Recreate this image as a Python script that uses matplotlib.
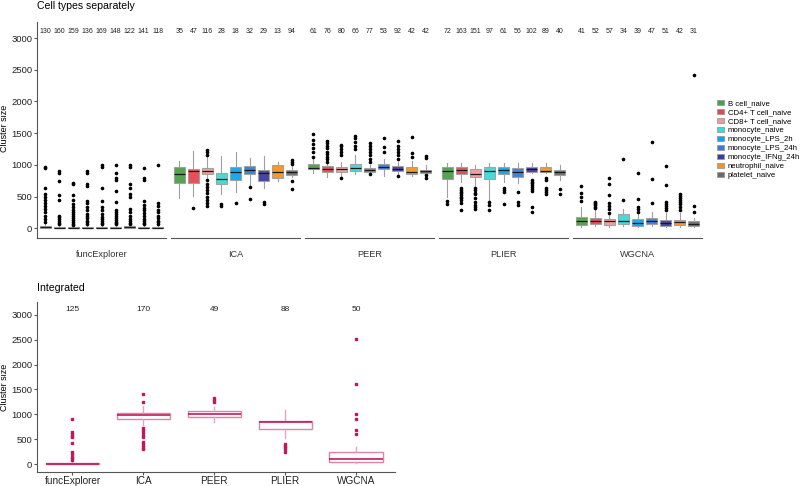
import matplotlib.pyplot as plt
from matplotlib.patches import Patch

# cell types and methods
cell_types = ['B cell_naive', 'CD4+ T cell_naive', 'CD8+ T cell_naive', 'monocyte_naive',
              'monocyte_LPS_2h', 'monocyte_LPS_24h', 'monocyte_IFNg_24h',
              'neutrophil_naive', 'platelet_naive']
cell_colors = ['#4c9f45', '#e5474f', '#ec9a9e', '#3ed8d6', '#0ba5f2',
               '#3a7bd8', '#3c3c9c', '#f7931e', '#6a6a6a']
methods = ['funcExplorer', 'ICA', 'PEER', 'PLIER', 'WGCNA']

# counts per method x cell type (top panel)
counts_sep = [
    [130, 160, 159, 136, 169, 148, 122, 141, 118],
    [35, 47, 116, 28, 18, 32, 29, 13, 94],
    [61, 76, 80, 66, 77, 53, 92, 42, 42],
    [72, 163, 151, 97, 61, 56, 102, 89, 40],
    [41, 52, 57, 34, 39, 47, 51, 42, 31],
]
q1_sep = [
    [0, 2, 2, 2, 2, 2, 0, 2, 2],
    [721, 721, 863, 700, 763, 858, 747, 795, 847],
    [930, 880, 890, 900, 890, 930, 900, 850, 876],
    [776, 850, 813, 776, 860, 802, 886, 892, 839],
    [47, 63, 52, 63, 42, 63, 42, 52, 42],
]
med_sep = [
    [12, 8, 8, 10, 8, 8, 12, 8, 8],
    [863, 900, 910, 784, 884, 921, 874, 889, 884],
    [955, 930, 930, 950, 920, 970, 940, 892, 902],
    [902, 918, 860, 902, 918, 886, 928, 907, 881],
    [121, 110, 110, 115, 89, 121, 79, 94, 73],
]
q3_sep = [
    [40, 18, 18, 22, 18, 18, 40, 18, 18],
    [968, 942, 953, 879, 963, 979, 916, 995, 916],
    [1020, 980, 970, 1010, 950, 1020, 980, 970, 918],
    [970, 960, 928, 970, 960, 950, 960, 970, 918],
    [184, 157, 142, 220, 142, 157, 131, 131, 115],
]
lo_sep = [
    [0, 0, 0, 0, 0, 0, 0, 0, 0],
    [484, 510, 800, 542, 574, 679, 642, 742, 805],
    [870, 810, 830, 850, 860, 830, 840, 823, 860],
    [498, 734, 656, 446, 734, 708, 865, 865, 760],
    [26, 37, 26, 37, 26, 37, 26, 26, 26],
]
hi_sep = [
    [80, 50, 40, 50, 50, 50, 80, 50, 40],
    [1063, 1216, 1130, 1142, 1195, 1105, 1137, 1037, 984],
    [1100, 1040, 1040, 1150, 1000, 1100, 1050, 1060, 997],
    [1023, 1023, 997, 1023, 1023, 1023, 1023, 1023, 997],
    [341, 288, 210, 299, 288, 262, 236, 236, 157],
]
fliers_sep = [
    [[955, 960, 640, 540, 500, 450, 400, 350, 300, 250, 200, 150, 100],
     [910, 870, 740, 530, 450, 200, 170, 140, 110, 80, 60],
     [720, 700, 530, 450, 380, 330, 290, 250, 220, 190, 160, 130, 100, 70, 50],
     [910, 870, 690, 660, 430, 390, 330, 280, 230, 200, 160, 120, 90, 60],
     [1000, 960, 630, 430, 330, 280, 220, 180, 140, 110, 80, 60],
     [1000, 870, 790, 760, 590, 420, 280, 250, 220, 190, 160, 130, 100, 80, 60],
     [990, 960, 690, 640, 540, 500, 300, 250, 200, 150, 110, 80, 60],
     [950, 800, 760, 430, 360, 320, 280, 240, 200, 150, 110, 80, 60],
     [1000, 400, 350, 290, 250, 200, 160, 120, 90, 60]],
    [[], [326], [1160, 1195, 1230, 758, 700, 650, 600, 550, 500, 450, 400, 350],
     [389, 353], [405], [653, 458], [416, 374], [], [1074, 1047, 1021, 742, 616]],
    [[1479, 1390, 1327, 1259, 1196, 1128],
     [1380, 1340, 1300, 1260, 1210, 1170, 1130, 1090, 1050],
     [1320, 1300, 1250, 1210, 1160, 800],
     [1450, 1430, 1360, 1290, 1250],
     [1350, 1300, 1250, 1200, 1150, 1100, 1040, 850],
     [1430, 1280, 1200],
     [1380, 1300, 1250, 1200, 1150, 1100, 830],
     [1442, 1180, 1128],
     [1143, 1101, 839, 797]],
    [[435, 378],
     [629, 603, 577, 550, 524, 498, 472, 440, 400, 288],
     [630, 600, 560, 540, 470, 420, 370, 330, 300],
     [409, 362, 288],
     [640, 603, 566, 383],
     [577, 420, 367],
     [760, 735, 710, 680, 650, 620, 590, 341, 262],
     [797, 760, 630, 600, 570, 540],
     [614, 535]],
    [[666, 561, 498, 430],
     [420, 400, 380, 360, 340, 320],
     [797, 692, 524, 404, 351, 299, 236],
     [1086, 446],
     [876, 462, 340, 300, 260],
     [1353, 776, 404],
     [986, 682, 414, 380, 350, 320, 283],
     [535, 510, 480, 450, 420, 380, 330, 290],
     [2418, 351, 262]],
]

# integrated (bottom panel)
counts_int = [125, 170, 49, 88, 50]
q1_int = [2, 899, 939, 698, 47]
med_int = [10, 990, 1010, 839, 100]
q3_int = [25, 1020, 1067, 872, 248]
lo_int = [0, 785, 839, 517, 34]
hi_int = [60, 1170, 1154, 1087, 349]
fliers_int = [
    [900, 640, 610, 570, 550, 430, 250, 200, 150, 120, 90],
    [1409, 1255, 718, 680, 640, 590, 550, 450, 410, 370, 330, 300],
    [1335, 1288, 1248],
    [400, 370, 340, 310, 250],
    [2516, 1604, 1000, 906, 684, 617],
]

plt.rcParams['font.family'] = ['Liberation Sans', 'DejaVu Sans']
fig = plt.figure(figsize=(8, 4.86), dpi=100)

W, H = 800, 486
ylim = (-155, 3255)
axis_col = '#555555'


def style_axis(ax, left):
    for s in ['top', 'right']:
        ax.spines[s].set_visible(False)
    ax.spines['bottom'].set_color(axis_col)
    ax.spines['left'].set_color(axis_col)
    ax.spines['left'].set_visible(left)
    ax.set_ylim(*ylim)
    ax.set_yticks([0, 500, 1000, 1500, 2000, 2500, 3000])
    ax.tick_params(axis='y', labelsize=6.8, length=2, color=axis_col, pad=1.5,
                   labelcolor='#222222')
    if not left:
        ax.tick_params(axis='y', left=False, labelleft=False)


# top panel: one axes per method
x0, fw, gap = 37, 129, 5
top_axes = []
for m, method in enumerate(methods):
    left = (x0 + m * (fw + gap)) / W
    ax = fig.add_axes([left, 1 - 238 / H, fw / W, 216 / H])
    stats = []
    for i in range(len(cell_types)):
        stats.append(dict(q1=q1_sep[m][i], med=med_sep[m][i], q3=q3_sep[m][i],
                          whislo=lo_sep[m][i], whishi=hi_sep[m][i],
                          fliers=fliers_sep[m][i]))
    bp = ax.bxp(stats, positions=range(len(cell_types)), widths=0.75,
                patch_artist=True, showfliers=True,
                boxprops=dict(edgecolor='#a0a0a0', linewidth=0.8),
                whiskerprops=dict(color='#a0a0a0', linewidth=0.8),
                capprops=dict(linewidth=0),
                medianprops=dict(color='#1a1a1a', linewidth=0.9),
                flierprops=dict(marker='o', markersize=1.6, markerfacecolor='black',
                                markeredgecolor='black', linestyle='none'))
    for patch, c in zip(bp['boxes'], cell_colors):
        patch.set_facecolor(c)
        patch.set_alpha(0.95)
    for i, n in enumerate(counts_sep[m]):
        ax.text(i, 3100, str(n), ha='center', va='center', fontsize=5, color='#222222')
    ax.set_xlim(-0.6, 8.6)
    ax.set_xticks([4])
    ax.set_xticklabels([method], fontsize=6.6, color='#333333')
    ax.tick_params(axis='x', length=0, pad=8.5)
    style_axis(ax, m == 0)
    top_axes.append(ax)

fig.text(5 / W, 1 - 128 / H, 'Cluster size', fontsize=6.5, rotation=90,
         ha='center', va='center')
fig.text(37 / W, 1 - 6 / H, 'Cell types separately', fontsize=7.6, va='center', ha='left')

# legend
handles = [Patch(facecolor=c, edgecolor='#9a9a9a', linewidth=0.6) for c in cell_colors]
fig.legend(handles, cell_types, loc='upper left', bbox_to_anchor=(713 / W, 1 - 96 / H),
           frameon=False, fontsize=5.6, handlelength=0.9, handleheight=0.7,
           handletextpad=0.5, labelspacing=0.2, borderpad=0)

# bottom panel: integrated
ax2 = fig.add_axes([37 / W, 1 - 472 / H, 358 / W, 170 / H])
stats = []
for i in range(len(methods)):
    stats.append(dict(q1=q1_int[i], med=med_int[i], q3=q3_int[i],
                      whislo=lo_int[i], whishi=hi_int[i], fliers=fliers_int[i]))
bp2 = ax2.bxp(stats, positions=range(len(methods)), widths=0.75,
              patch_artist=True, showfliers=True,
              boxprops=dict(edgecolor='#e083a6', facecolor='white', linewidth=1.0),
              whiskerprops=dict(color='#e9a3bd', linewidth=1.0),
              capprops=dict(linewidth=0),
              medianprops=dict(color='#c2185b', linewidth=1.2),
              flierprops=dict(marker='s', markersize=1.8, markerfacecolor='#c2185b',
                              markeredgecolor='#c2185b', linestyle='none'))
for i, n in enumerate(counts_int):
    ax2.text(i, 3100, str(n), ha='center', va='center', fontsize=6, color='#222222')
ax2.set_xlim(-0.5, 4.55)
ax2.set_xticks(range(len(methods)))
ax2.set_xticklabels(methods, fontsize=7.2, color='#222222')
ax2.tick_params(axis='x', length=2, color=axis_col, pad=1)
style_axis(ax2, True)
fig.text(5 / W, 1 - 387 / H, 'Cluster size', fontsize=6.5, rotation=90,
         ha='center', va='center')
fig.text(37 / W, 1 - 288 / H, 'Integrated', fontsize=7.6, va='center', ha='left')

fig.savefig('out.png', dpi=100)
